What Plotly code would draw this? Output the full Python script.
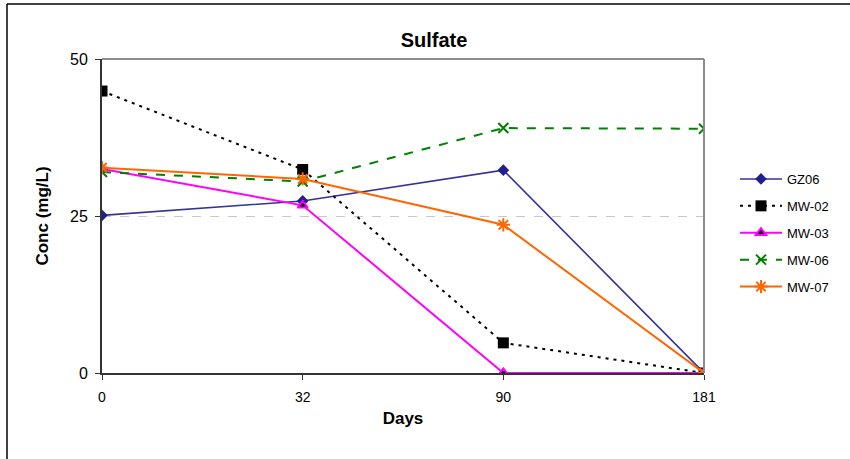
import plotly.graph_objects as go

days = ["0", "32", "90", "181"]
gz06 = [25.1, 27.4, 32.3, 0.0]
mw02 = [44.9, 32.4, 4.8, 0.0]
mw03 = [32.5, 26.7, 0.0, 0.0]
mw06 = [32.0, 30.5, 39.0, 38.9]
mw07 = [32.7, 30.9, 23.6, 0.0]

fig = go.Figure()
fig.add_trace(go.Scatter(x=days, y=gz06, name="GZ06", mode="lines+markers",
                         line=dict(color="#333399", width=1.6),
                         marker=dict(symbol="diamond", size=9, color="#1f1f8f")))
fig.add_trace(go.Scatter(x=days, y=mw02, name="MW-02", mode="lines+markers",
                         line=dict(color="black", width=2, dash="3px,5px"),
                         marker=dict(symbol="square", size=11, color="black")))
fig.add_trace(go.Scatter(x=days, y=mw03, name="MW-03", mode="lines+markers",
                         line=dict(color="#FF00FF", width=2),
                         marker=dict(symbol="triangle-up", size=9, color="black",
                                     line=dict(color="#FF00FF", width=2))))
fig.add_trace(go.Scatter(x=days, y=mw06, name="MW-06", mode="lines+markers",
                         line=dict(color="#008000", width=2, dash="dash"),
                         marker=dict(symbol="x-thin-open", size=10, color="#008000",
                                     line=dict(color="#008000", width=2))))
fig.add_trace(go.Scatter(x=days, y=mw07, name="MW-07", mode="lines+markers",
                         line=dict(color="#FF6600", width=2),
                         marker=dict(symbol="asterisk-open", size=11, color="#FF6600",
                                     line=dict(color="#FF6600", width=2))))

for i, tr in enumerate(fig.data):
    tr.legendgroup = f"g{i}"

fig.update_layout(
    width=850, height=459,
    margin=dict(l=102, r=146, t=59, b=86),
    paper_bgcolor="white", plot_bgcolor="white",
    font=dict(family="Arial, Liberation Sans, sans-serif", color="black", size=12),
    title=dict(text="<b>Sulfate</b>", x=434 / 850, xanchor="center",
               y=1 - 40 / 459, yanchor="middle", font=dict(size=20)),
    showlegend=True,
    legend=dict(x=(735 - 102) / 602, xanchor="left", y=(373 - 164) / 314, yanchor="top",
                font=dict(size=13), bgcolor="rgba(0,0,0,0)",
                tracegroupgap=7, traceorder="grouped", itemwidth=42),
    shapes=[
        dict(type="line", xref="paper", yref="paper", x0=0, x1=1, y0=1, y1=1,
             line=dict(color="#8c8c8c", width=2)),
        dict(type="line", xref="paper", yref="paper", x0=1, x1=1, y0=0, y1=1,
             line=dict(color="#8c8c8c", width=2)),
        dict(type="line", xref="paper", yref="paper", x0=(7 - 102) / 602, x1=(7 - 102) / 602,
             y0=(373 - 4) / 314, y1=(373 - 470) / 314, line=dict(color="black", width=1.5)),
        dict(type="line", xref="paper", yref="paper", x0=(7 - 102) / 602, x1=(860 - 102) / 602,
             y0=(373 - 4) / 314, y1=(373 - 4) / 314, line=dict(color="black", width=1.5)),
    ],
)

fig.update_xaxes(type="category", range=[0, 3], showgrid=False, zeroline=False,
                 showline=True, linecolor="#333333", linewidth=2,
                 ticks="outside", ticklen=5, tickcolor="#333333",
                 tickfont=dict(size=14, family="Liberation Sans Narrow, Arial Narrow, Arial"),
                 ticklabelstandoff=5,
                 title=dict(text="<b>Days</b>", font=dict(size=17), standoff=8))
fig.update_yaxes(range=[0, 50], tickvals=[0, 25, 50], showgrid=True,
                 gridcolor="#c8c8c8", griddash="dash", gridwidth=1, zeroline=False,
                 showline=True, linecolor="#333333", linewidth=2,
                 ticks="outside", ticklen=5, tickcolor="#333333",
                 tickfont=dict(size=16), ticklabelstandoff=4,
                 title=dict(text="<b>Conc (mg/L)</b>", font=dict(size=17), standoff=17))

fig.write_html("out.html", config={"displayModeBar": False},
               post_script="document.body.style.margin='0px';")
